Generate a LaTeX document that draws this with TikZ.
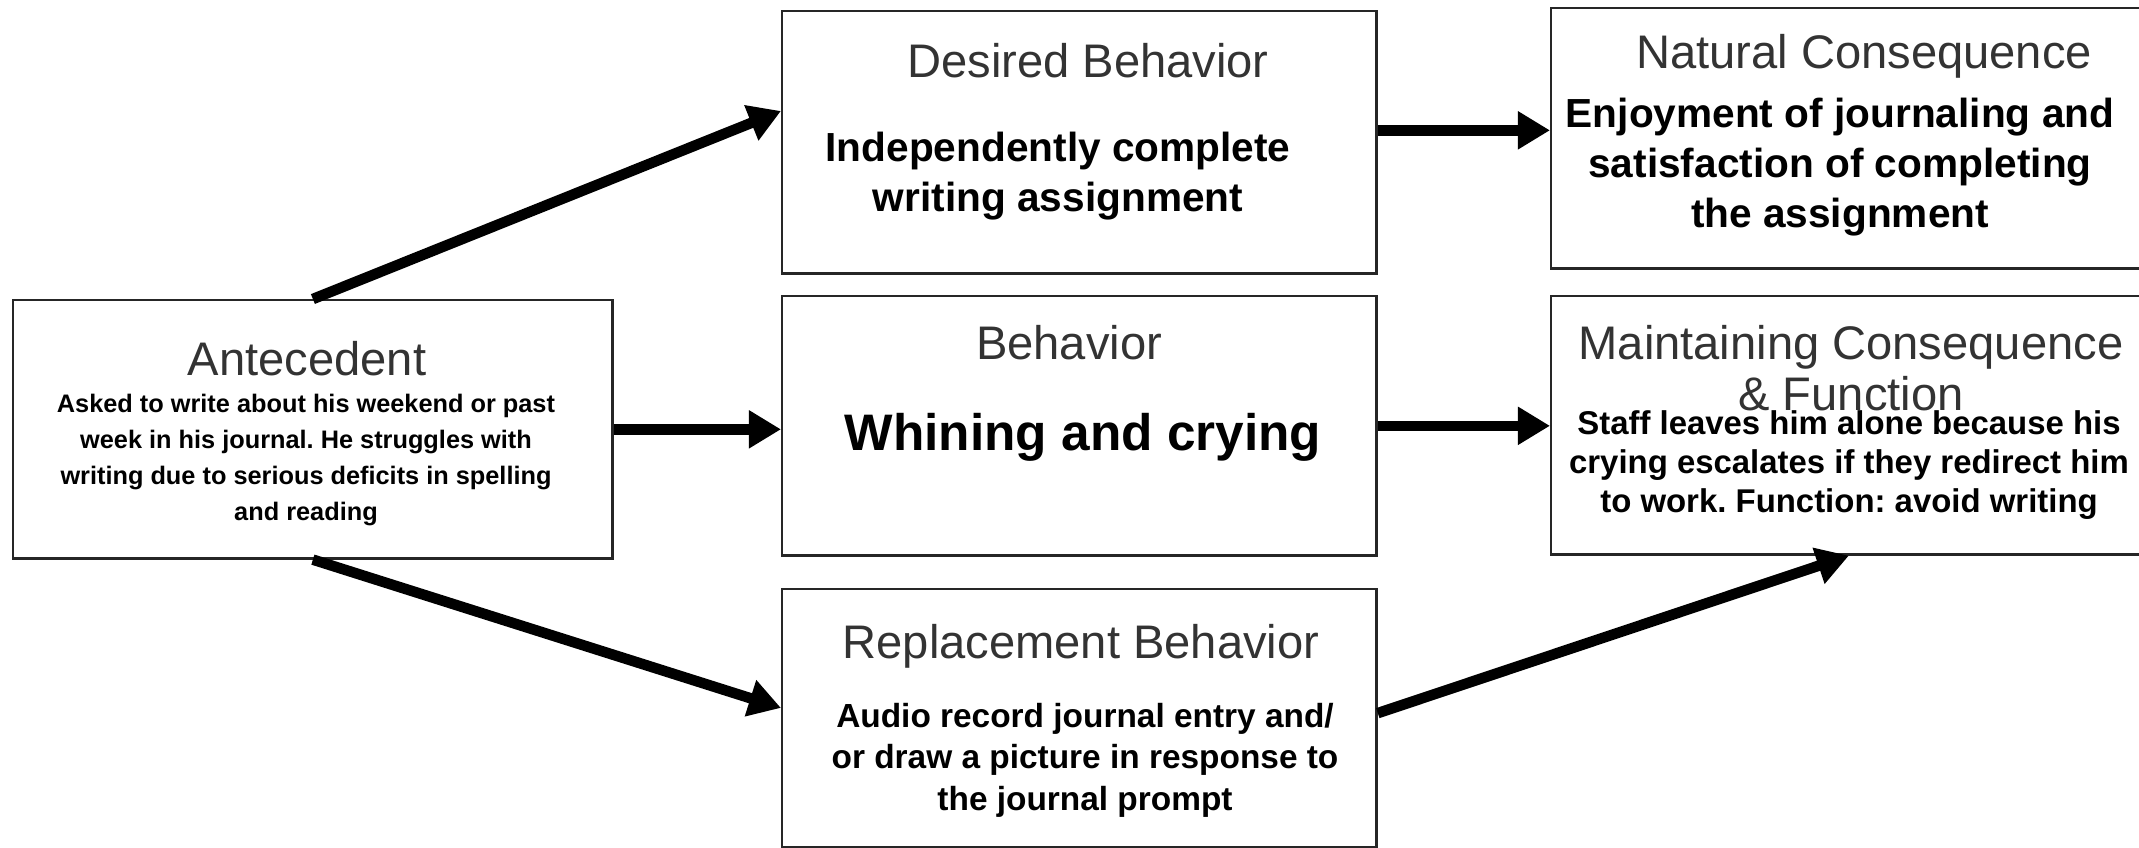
\documentclass[tikz,border=0pt]{standalone}
\usepackage{fontspec}
\setmainfont{Liberation Sans}
\usetikzlibrary{arrows.meta}
\frenchspacing

\begin{document}
\begin{tikzpicture}[x=0.01cm,y=-0.01cm,
		box/.style={draw=black!85,line width=0.7pt,inner sep=0pt,anchor=north west},
		head/.style={text=black!80,font=\fontsize{13.4}{14.6}\selectfont,align=center,inner sep=0pt},
		body/.style 2 args={font=\bfseries\fontsize{#1}{#2}\selectfont,align=center,inner sep=0pt},
		link/.style={line width=3pt,-{Triangle[length=0.32cm,width=0.36cm]}}]
	\useasboundingbox (0,0) rectangle (2139,847);
	\clip (0,0) rectangle (2139,847);
	\node[box,minimum width=5.99cm,minimum height=2.58cm] (ante) at (12,299) {};
	\node[box,minimum width=5.94cm,minimum height=2.62cm] (desired) at (781,10) {};
	\node[box,minimum width=5.94cm,minimum height=2.59cm] (behav) at (781,295) {};
	\node[box,minimum width=5.94cm,minimum height=2.58cm] (replace) at (781,588) {};
	\node[box,minimum width=5.95cm,minimum height=2.60cm] (natural) at (1550,7) {};
	\node[box,minimum width=5.95cm,minimum height=2.58cm] (maint) at (1550,295) {};

	\node[head] (anteT) at (307,359) {Antecedent};
	\node[head] (desiredT) at (1088,61) {Desired Behavior};
	\node[head] (naturalT) at (1864,56) {Natural Consequence};
	\node[head] (behavT) at (1069,343) {Behavior};
	\node[head] (maintT) at (1851,368) {Maintaining Consequence\\\& Function};
	\node[head] (replaceT) at (1081,646) {Replacement Behavior};

	\node[body={7.2}{10.2}] (anteB) at (306,460) {Asked to write about his weekend or past\\week in his journal. He struggles with\\writing due to serious deficits in spelling\\and reading};
	\node[body={11.55}{14.2}] (desiredB) at (1058,176) {Independently complete\\writing assignment};
	\node[body={11.55}{14.2}] (naturalB) at (1840,167) {Enjoyment of journaling and\\satisfaction of completing\\the assignment};
	\node[body={14.6}{16}] (behavB) at (1083,437) {Whining and crying};
	\node[body={9.36}{11.1}] (maintB) at (1849,465) {Staff leaves him alone because his\\crying escalates if they redirect him\\to work. Function: avoid writing};
	\node[body={9.5}{11.8}] (replaceB) at (1085,760) {Audio record journal entry and/\\or draw a picture in response to\\the journal prompt};

	\draw[link] (ante.north) -- (desired.174);
	\draw[link] (ante.east) -- (ante.east -| behav.west);
	\draw[link] (ante.south) -- (replace.178);
	\draw[link] ([yshift=0.12cm]desired.east) -- ([yshift=0.12cm]desired.east -| natural.west);
	\draw[link] (behav.east) -- (behav.east -| maint.west);
	\draw[link] (replace.1) -- (maint.south);
\end{tikzpicture}
\end{document}
